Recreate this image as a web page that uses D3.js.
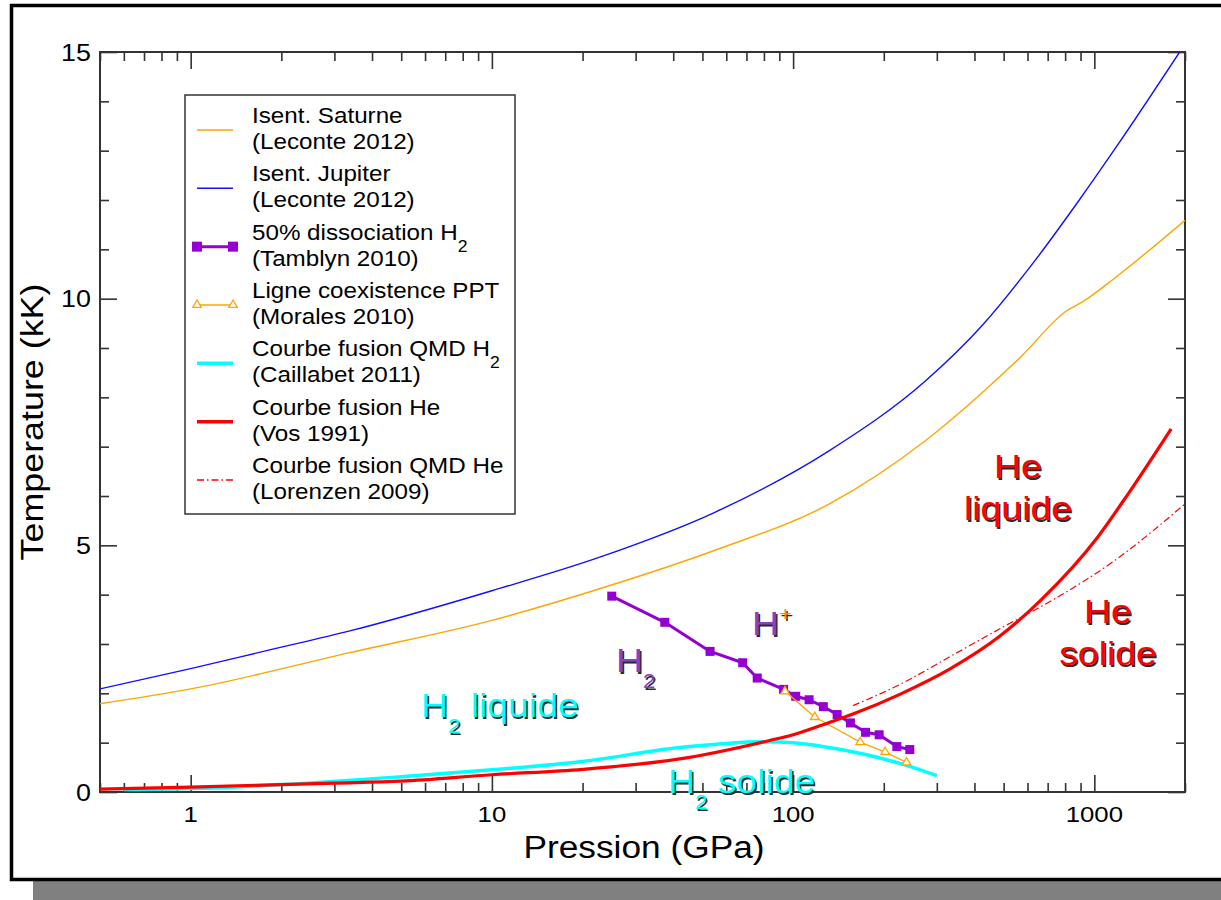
<!DOCTYPE html>
<html>
<head>
<meta charset="utf-8">
<script src="https://cdn.jsdelivr.net/npm/d3@7"></script>
<style>
body { margin: 0; background: #fff; }
text { font-family: "Liberation Sans", Arial, Helvetica, sans-serif; }
</style>
</head>
<body>
<script>

// data, pressure in GPa and temperature in kK
var pJupiter = [0.5, 1, 1.8, 3.4, 10, 22.8, 55, 132, 276, 425, 624, 889, 1181, 1920];
var tJupiter = [2.09, 2.50, 2.87, 3.27, 4.08, 4.76, 5.67, 6.92, 8.34, 9.46, 10.71, 11.99, 13.07, 15.0];

var pSaturne = [0.5, 1, 3.4, 10, 22.8, 55, 132, 276, 425, 572, 812, 911, 1181, 2000];
var tSaturne = [1.79, 2.09, 2.83, 3.48, 4.12, 4.90, 5.84, 7.13, 8.10, 8.83, 9.76, 9.93, 10.44, 11.59];

var pTamblyn = [25, 37.5, 53, 68, 76, 93, 102, 113, 126, 140, 155, 174, 193, 221, 244];
var tTamblyn = [3.97, 3.44, 2.85, 2.62, 2.31, 2.08, 1.94, 1.87, 1.73, 1.57, 1.40, 1.21, 1.16, 0.92, 0.86];

var pMorales = [94, 118, 167, 202, 238];
var tMorales = [2.04, 1.52, 1.01, 0.81, 0.60];

var pCaillabet = [0.6, 1, 2, 5, 10, 20, 42, 80, 100, 150, 200, 250, 300];
var tCaillabet = [0.05, 0.07, 0.15, 0.31, 0.45, 0.62, 0.90, 1.02, 1.00, 0.84, 0.67, 0.50, 0.33];

var pVos = [0.5, 1, 3, 5, 10, 20, 42, 83, 100, 132, 158, 228, 333, 486, 662, 1027, 1297, 1798];
var tVos = [0.06, 0.10, 0.18, 0.22, 0.35, 0.46, 0.67, 1.04, 1.16, 1.41, 1.58, 1.99, 2.50, 3.16, 3.88, 5.17, 6.05, 7.36];

var pLorenzen = [158, 228, 333, 486, 722, 1149, 2000];
var tLorenzen = [1.75, 2.19, 2.75, 3.31, 3.88, 4.66, 5.84];

var xMajor = [1, 10, 100, 1000];
var yMajor = [0, 5, 10, 15];

var legendLine1 = ["Isent. Saturne", "Isent. Jupiter", "50% dissociation H", "Ligne coexistence PPT",
                   "Courbe fusion QMD H", "Courbe fusion He", "Courbe fusion QMD He"];
var legendSub = ["", "", "2", "", "2", "", ""];
var legendLine2 = ["(Leconte 2012)", "(Leconte 2012)", "(Tamblyn 2010)", "(Morales 2010)",
                   "(Caillabet 2011)", "(Vos 1991)", "(Lorenzen 2009)"];

// colours
var orange = "#ffa500", blue = "#1010ff", violet = "#9400d3", cyan = "#00ffff", red = "#ff0000";
var violetText = "#8a40c2";

var margin = {top: 52, right: 36, bottom: 108, left: 100},
    width = 1221 - margin.left - margin.right,
    height = 900 - margin.top - margin.bottom;

var svg = d3.select("body").append("svg")
  .attr("width", 1221)
  .attr("height", 900);

// page frame with its grey shadow
svg.append("rect")
  .attr("x", 33).attr("y", 881)
  .attr("width", 1200).attr("height", 20)
  .attr("fill", "#808080");
svg.append("rect")
  .attr("x", 11.5).attr("y", 5.5)
  .attr("width", 1230).attr("height", 874)
  .attr("fill", "#fff")
  .attr("stroke", "#000")
  .attr("stroke-width", 3.5);

var g = svg.append("g")
  .attr("transform", "translate(" + margin.left + "," + margin.top + ")");

var x = d3.scaleLog().domain([0.5, 2000]).range([0, width]);
var y = d3.scaleLinear().domain([0, 15]).range([height, 0]);

var xMinor = x.ticks().filter(function(d) { return xMajor.indexOf(d) < 0; });
var yMinor = d3.range(0, 16).filter(function(d) { return yMajor.indexOf(d) < 0; });

// stretched text helper
function stext(parent, px, py, size, sx, anchor) {
  return parent.append("text")
    .attr("transform", "translate(" + px + "," + py + ") scale(" + sx + ",1)")
    .attr("font-size", size)
    .attr("text-anchor", anchor || "start");
}

// axes, ticks pointing inwards on the four sides
function tickAxis(axis, tr, size) {
  g.append("g")
    .attr("transform", tr)
    .call(axis.tickSize(size).tickSizeOuter(0).tickFormat(""))
    .call(function(s) {
      s.select(".domain").remove();
      s.selectAll("line").attr("stroke", "#333").attr("stroke-width", 1.6);
    });
}
tickAxis(d3.axisBottom(x).tickValues(xMajor), "translate(0," + height + ")", -17);
tickAxis(d3.axisBottom(x).tickValues(xMinor), "translate(0," + height + ")", -9);
tickAxis(d3.axisTop(x).tickValues(xMajor), "translate(0,0)", -17);
tickAxis(d3.axisTop(x).tickValues(xMinor), "translate(0,0)", -9);
tickAxis(d3.axisLeft(y).tickValues(yMajor), "translate(0,0)", -17);
tickAxis(d3.axisLeft(y).tickValues(yMinor), "translate(0,0)", -9);
tickAxis(d3.axisRight(y).tickValues(yMajor), "translate(" + width + ",0)", -17);
tickAxis(d3.axisRight(y).tickValues(yMinor), "translate(" + width + ",0)", -9);

g.append("rect")
  .attr("width", width).attr("height", height)
  .attr("fill", "none")
  .attr("stroke", "#333")
  .attr("stroke-width", 2);

// tick labels
xMajor.forEach(function(d) {
  stext(g, x(d), height + 30, 23, 1.12, "middle").text(d);
});
yMajor.forEach(function(d) {
  stext(g, -9, y(d) + 8.5, 24, 1.12, "end").text(d);
});

// axis titles
stext(svg, 644, 857.5, 31.5, 1.12, "middle").text("Pression (GPa)");
svg.append("text")
  .attr("transform", "translate(43,422) rotate(-90) scale(1.12,1)")
  .attr("font-size", 32)
  .attr("text-anchor", "middle")
  .text("Temperature (kK)");

// curves
var defs = svg.append("defs");
defs.append("clipPath").attr("id", "plot-clip")
  .append("rect").attr("width", width).attr("height", height);

var plot = g.append("g").attr("clip-path", "url(#plot-clip)");

function pts(ps, ts) {
  return ps.map(function(p, i) { return [p, ts[i]]; });
}

var smooth = d3.line()
  .x(function(d) { return x(d[0]); })
  .y(function(d) { return y(d[1]); })
  .curve(d3.curveMonotoneX);

var straight = d3.line()
  .x(function(d) { return x(d[0]); })
  .y(function(d) { return y(d[1]); });

function curve(data, gen, col, w, dash) {
  plot.append("path")
    .datum(data)
    .attr("d", gen)
    .attr("fill", "none")
    .attr("stroke", col)
    .attr("stroke-width", w)
    .attr("stroke-linejoin", "round")
    .attr("stroke-dasharray", dash || null);
}

curve(pts(pSaturne, tSaturne), smooth, orange, 1.4);
curve(pts(pJupiter, tJupiter), smooth, blue, 1.4);
curve(pts(pCaillabet, tCaillabet), smooth, cyan, 3.5);

var tamblyn = pts(pTamblyn, tTamblyn);
curve(tamblyn, straight, violet, 3);
plot.selectAll(".sq")
  .data(tamblyn)
  .enter().append("rect")
    .attr("class", "sq")
    .attr("x", function(d) { return x(d[0]) - 4.5; })
    .attr("y", function(d) { return y(d[1]) - 4.5; })
    .attr("width", 9).attr("height", 9)
    .attr("fill", violet);

var morales = pts(pMorales, tMorales);
curve(morales, straight, orange, 1.3);
var tri = d3.symbol().type(d3.symbolTriangle).size(32);
plot.selectAll(".tri")
  .data(morales)
  .enter().append("path")
    .attr("class", "tri")
    .attr("d", tri)
    .attr("transform", function(d) { return "translate(" + x(d[0]) + "," + y(d[1]) + ")"; })
    .attr("fill", "#fff")
    .attr("stroke", orange)
    .attr("stroke-width", 1.3);

curve(pts(pVos, tVos), smooth, red, 3.2);
curve(pts(pLorenzen, tLorenzen), smooth, red, 1.2, "7,3,1.5,3");

// legend
var legend = svg.append("g");
legend.append("rect")
  .attr("x", 185).attr("y", 95)
  .attr("width", 330).attr("height", 419)
  .attr("fill", "#fff")
  .attr("stroke", "#333")
  .attr("stroke-width", 1.5);

var legendCol = [orange, blue, violet, orange, cyan, red, red];
var legendW = [1.5, 1.5, 3, 1.3, 3.5, 3.5, 1.3];
legendLine1.forEach(function(txt, i) {
  var ly = 130 + i * 58.33;
  legend.append("line")
    .attr("x1", 197).attr("x2", 233)
    .attr("y1", ly).attr("y2", ly)
    .attr("stroke", legendCol[i])
    .attr("stroke-width", legendW[i])
    .attr("stroke-dasharray", i === 6 ? "7,3,1.5,3" : null);
  if (i === 2) {
    [197, 233].forEach(function(lx) {
      legend.append("rect")
        .attr("x", lx - 5).attr("y", ly - 5)
        .attr("width", 10).attr("height", 10)
        .attr("fill", violet);
    });
  }
  if (i === 3) {
    [197, 233].forEach(function(lx) {
      legend.append("path")
        .attr("d", tri)
        .attr("transform", "translate(" + lx + "," + ly + ")")
        .attr("fill", "#fff")
        .attr("stroke", orange)
        .attr("stroke-width", 1.3);
    });
  }
  var t1 = stext(legend, 252, ly - 7, 22, 1.1);
  t1.append("tspan").text(txt);
  if (legendSub[i]) {
    t1.append("tspan").attr("font-size", 16).attr("dy", 12).text(legendSub[i]);
  }
  stext(legend, 252, ly + 19, 22, 1.1).text(legendLine2[i]);
});

// region labels with a dark shadow
function annot(px, py, anchor, parts) {
  [true, false].forEach(function(shadow) {
    var off = shadow ? 1.5 : 0;
    var t = stext(g, px - margin.left + off, py - margin.top + off, 34, 1.1, anchor);
    var shift = 0;
    parts.forEach(function(p) {
      var dy = 0, size = 34;
      if (p.sub) { dy = 16 - shift; shift = 16; size = 20; }
      else if (p.sup) { dy = -14 - shift; shift = -14; size = 20; }
      else { dy = -shift; shift = 0; }
      t.append("tspan")
        .attr("dy", dy)
        .attr("font-size", size)
        .attr("fill", shadow ? "#2a2a2a" : p.c)
        .text(p.t);
    });
  });
}

annot(752, 635, "start", [{t: "H", c: violetText}, {t: "+", c: "#ff8c00", sup: true}]);
annot(616, 672, "start", [{t: "H", c: violetText}, {t: "2", c: violetText, sub: true}]);
annot(421, 717, "start", [{t: "H", c: cyan}, {t: "2", c: cyan, sub: true}, {t: " liquide", c: cyan}]);
annot(668, 793, "start", [{t: "H", c: cyan}, {t: "2", c: cyan, sub: true}, {t: " solide", c: cyan}]);
annot(1018, 478, "middle", [{t: "He", c: red}]);
annot(1018, 520, "middle", [{t: "liquide", c: red}]);
annot(1108, 623, "middle", [{t: "He", c: red}]);
annot(1108, 665, "middle", [{t: "solide", c: red}]);

</script>
</body>
</html>
